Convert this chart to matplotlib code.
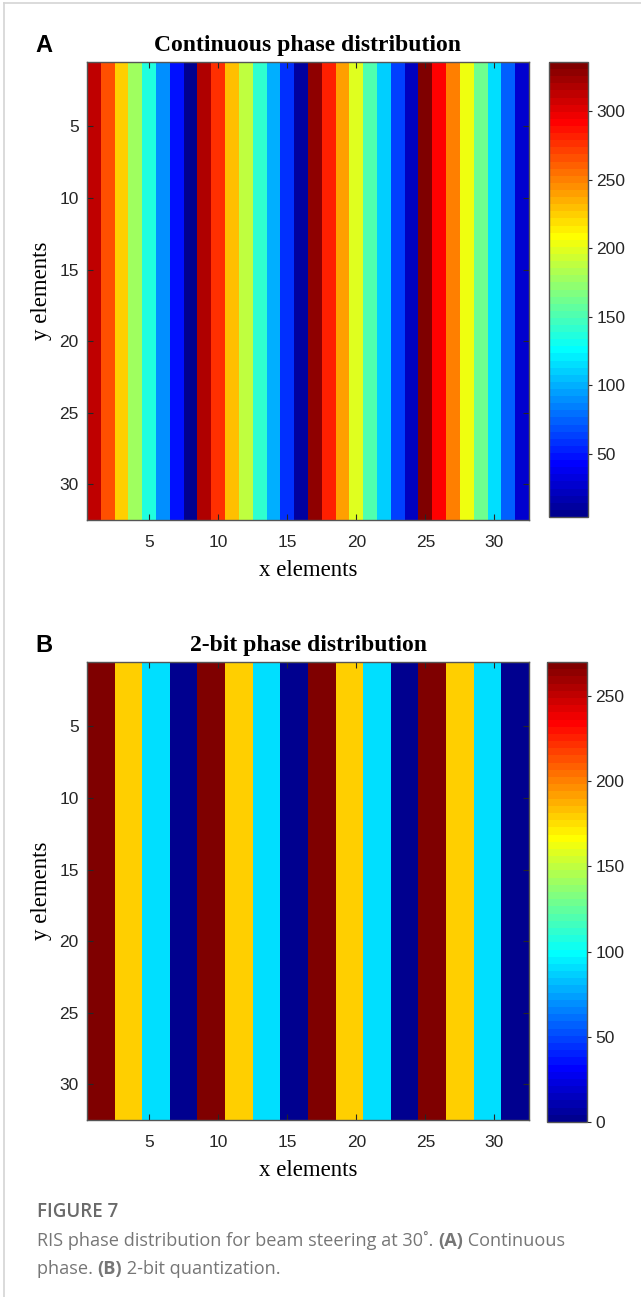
import numpy as np
import matplotlib
matplotlib.use("Agg")
import matplotlib.pyplot as plt
from matplotlib.colors import ListedColormap
from matplotlib.lines import Line2D

# phase per column (deg)
continuous_phase = [312, 268, 224, 180, 136, 92, 48, 4,
                    320, 276, 232, 188, 144, 100, 56, 12,
                    328, 284, 240, 196, 152, 108, 64, 20,
                    336, 292, 248, 204, 160, 116, 72, 28]
twobit_phase = [270, 270, 180, 180, 90, 90, 0, 0,
                270, 270, 180, 180, 90, 90, 0, 0,
                270, 270, 180, 180, 90, 90, 0, 0,
                270, 270, 180, 180, 90, 90, 0, 0]
n_rows = 32
axis_ticks = [5, 10, 15, 20, 25, 30]
cbar_ticks_a = [50, 100, 150, 200, 250, 300]
cbar_ticks_b = [0, 50, 100, 150, 200, 250]

W, H = 641, 1297


def matlab_jet(m=64):
    # same construction as MATLAB's jet(m)
    n = int(np.ceil(m / 4))
    u = np.concatenate([np.arange(1, n + 1) / n, np.ones(n - 1), np.arange(n, 0, -1) / n])
    g = int(np.ceil(n / 2)) - (1 if m % 4 == 1 else 0) + np.arange(1, len(u) + 1)
    r = g + n
    b = g - n
    J = np.zeros((m, 3))
    J[r[r <= m] - 1, 0] = u[r <= m]
    J[g[g <= m] - 1, 1] = u[g <= m]
    J[b[b >= 1] - 1, 2] = u[b >= 1]
    return ListedColormap(J)


cmap = matlab_jet(64)
serif = "Liberation Serif"
sans = "Liberation Sans"
axcol = "#262626"

fig = plt.figure(figsize=(W / 100, H / 100), dpi=100)
fig.patch.set_facecolor("white")


def px(x, y, w, h):
    return [x / W, 1 - (y + h) / H, w / W, h / H]


def panel(ax_rect, cb_rect, values, title, letter, cticks):
    grid = np.tile(np.array(values, dtype=float), (n_rows, 1))
    ax = fig.add_axes(px(*ax_rect))
    im = ax.imshow(grid, cmap=cmap, aspect="auto", interpolation="nearest",
                   extent=(0.5, 32.5, 32.5, 0.5))
    ax.set_xticks(axis_ticks)
    ax.set_yticks(axis_ticks)
    ax.tick_params(direction="in", length=4, width=0.8, colors=axcol,
                   top=True, right=True, labelsize=12.5)
    ax.tick_params(axis="x", pad=11)
    ax.tick_params(axis="y", pad=6)
    for lab in ax.get_xticklabels() + ax.get_yticklabels():
        lab.set_fontfamily(sans)
    for s in ax.spines.values():
        s.set_color("#555555")
        s.set_linewidth(1.0)
    ax.set_title(title, family=serif, fontweight="bold", fontsize=17, pad=8)
    ax.set_xlabel("x elements", family=serif, fontsize=16.5, labelpad=7)
    ax.set_ylabel("y elements", family=serif, fontsize=16.5, labelpad=5)

    cax = fig.add_axes(px(*cb_rect))
    cb = fig.colorbar(im, cax=cax, ticks=cticks)
    cb.outline.set_edgecolor("#555555")
    cb.outline.set_linewidth(1.0)
    cax.tick_params(direction="out", length=3, width=0.8, colors=axcol,
                    labelsize=12.5, pad=3)
    for lab in cax.get_yticklabels():
        lab.set_fontfamily(sans)

    fig.text(35 / W, 1 - (ax_rect[1] - 17) / H, letter, family=sans,
             fontweight="bold", fontsize=17, ha="left", va="center")


panel((87, 62, 442, 458), (549, 62, 39, 455), continuous_phase,
      "Continuous phase distribution", "A", cbar_ticks_a)
panel((87, 662, 442, 458), (547, 662, 40, 460), twobit_phase,
      "2-bit phase distribution", "B", cbar_ticks_b)

# caption
capfam = ["Open Sans", "DejaVu Sans"]
fig.text(37 / W, 1 - 1217 / H, "FIGURE 7", family=capfam, fontweight="semibold",
         fontsize=13.5, color="#6a6a6a", va="baseline", ha="left")

caption_lines = [
    (1246, [("RIS phase distribution for beam steering at 30˚. ", "normal"),
            ("(A)", "bold"), (" Continuous", "normal")]),
    (1274, [("phase. ", "normal"), ("(B)", "bold"), (" 2-bit quantization.", "normal")]),
]
fig.canvas.draw()
renderer = fig.canvas.get_renderer()
for yy, parts in caption_lines:
    x_cursor = 37
    for txt, wgt in parts:
        t = fig.text(x_cursor / W, 1 - yy / H, txt, family=capfam, fontweight=wgt,
                     fontsize=13.1, color="#767676", ha="left", va="baseline")
        x_cursor = t.get_window_extent(renderer).x1

# page frame
fig.add_artist(Line2D([4 / W, 4 / W], [0, 1 - 3 / H], color="#d4d4d4", lw=1.2))
fig.add_artist(Line2D([4 / W, 1], [1 - 3 / H, 1 - 3 / H], color="#d4d4d4", lw=1.2))

fig.savefig("out.png", dpi=100)
